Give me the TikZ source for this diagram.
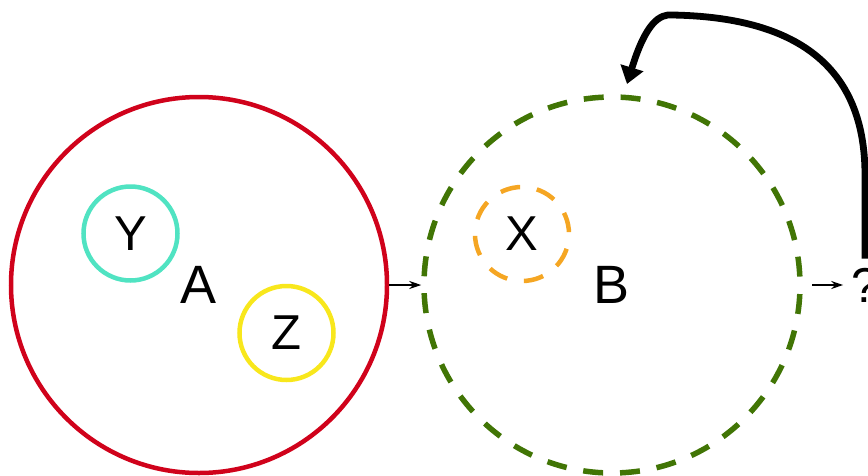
\documentclass[tikz,border=0pt]{standalone}
\usepackage{fontspec}
\setmainfont{Liberation Sans}
\usetikzlibrary{arrows.meta}
\definecolor{cred}{HTML}{D0021B}
\definecolor{cteal}{HTML}{50E3C2}
\definecolor{cyellow}{HTML}{F8E71C}
\definecolor{corange}{HTML}{F5A623}
\definecolor{cgreen}{HTML}{417505}
\begin{document}
\begin{tikzpicture}[x=1pt,y=-1pt,
  bigcirc/.style={circle, draw, inner sep=0pt, minimum size=376pt, line width=4.5pt,
    font=\fontsize{54}{54}\selectfont},
  smallcirc/.style={circle, draw, inner sep=0pt, minimum size=94pt, line width=4.5pt,
    font=\fontsize{49}{49}\selectfont},
  dsh/.style={dash pattern=on 20pt off 16.9pt},
  thinarrow/.style={-{Stealth[length=12pt,width=8pt]}, line width=1.8pt},
  thickarrow/.style={-{Triangle[length=17pt,width=23pt]}, line width=6.8pt}]
\useasboundingbox (0,0) rectangle (868,475);
\node[bigcirc, draw=cred] (A) at (199,285) {A};
\node[bigcirc, draw=cgreen, line width=5.5pt, dsh, dash phase=28.45pt] (B) at (612,285) {B};
\node[smallcirc, draw=cteal] (Y) at (130.5,233.5) {Y};
\node[smallcirc, draw=cyellow] (Z) at (286.5,333) {Z};
\node[smallcirc, draw=corange, dsh, dash phase=35pt] (X) at (522,234) {X};
\node[inner sep=0pt, font=\fontsize{49}{49}\selectfont] (q) at (865,285) {?};
\coordinate (Btip) at (627,84);
\draw[thinarrow] (A.east) -- (B.west);
\draw[thinarrow, shorten <=9.5pt, shorten >=8pt] (B.east) -- (q.west);
\draw[thickarrow, shorten <=9pt] (q.north) -- (865,175)
  .. controls (865,65) and (795,17) .. (672,15)
  .. controls (660,14) and (646,22) .. (Btip);
\end{tikzpicture}
\end{document}
